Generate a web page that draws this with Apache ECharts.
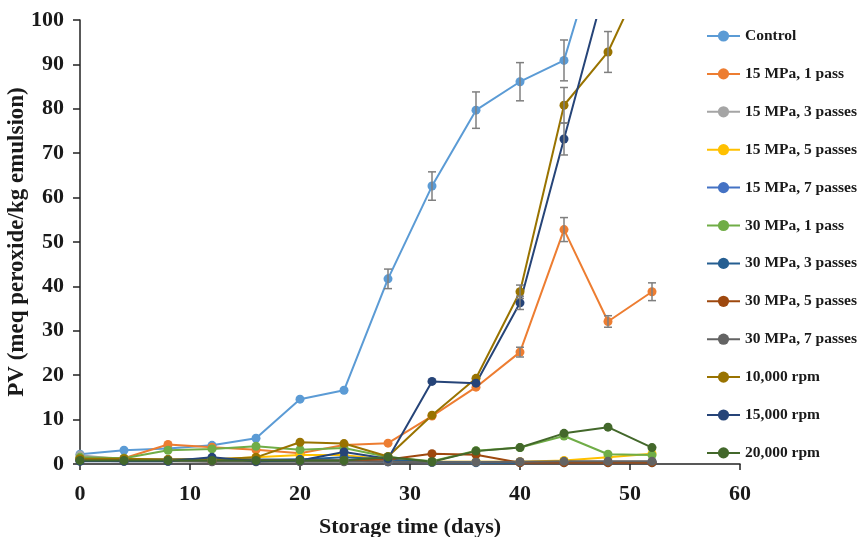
<!DOCTYPE html>
<html>
<head>
<meta charset="utf-8">
<script src="https://cdn.jsdelivr.net/npm/echarts@6/dist/echarts.min.js"></script>
<style>html,body{margin:0;padding:0;background:#fff}#c{width:864px;height:537px}</style>
</head>
<body>
<div id="c"></div>
<script>
var days = [0, 4, 8, 12, 16, 20, 24, 28, 32, 36, 40, 44, 48, 52];
var xTicks = [0, 10, 20, 30, 40, 50, 60];
var yTicks = [0, 10, 20, 30, 40, 50, 60, 70, 80, 90, 100];

var seriesNames = ['Control', '15 MPa, 1 pass', '15 MPa, 3 passes', '15 MPa, 5 passes', '15 MPa, 7 passes',
  '30 MPa, 1 pass', '30 MPa, 3 passes', '30 MPa, 5 passes', '30 MPa, 7 passes',
  '10,000 rpm', '15,000 rpm', '20,000 rpm'];
var seriesColors = ['#5B9BD5', '#ED7D31', '#A5A5A5', '#FFC000', '#4472C4', '#70AD47',
  '#255E91', '#9E480E', '#636363', '#997300', '#264478', '#43682B'];

var control      = [2.2, 3.1, 3.5, 4.2, 5.8, 14.6, 16.6, 41.7, 62.6, 79.7, 86.1, 90.9, 124, null];
var mpa15p1      = [1.5, 1.3, 4.4, 3.8, 3.2, 2.4, 4.3, 4.7, 10.8, 17.3, 25.2, 52.8, 32.1, 38.8];
var mpa15p3      = [2.0, 1.0, 0.8, 0.8, 0.8, 0.8, 0.8, 0.5, 0.5, 0.5, 0.5, 0.5, 0.5, 0.5];
var mpa15p5      = [1.2, 1.0, 1.0, 1.0, 1.5, 2.0, 2.0, 1.0, 0.5, 0.5, 0.5, 0.8, 1.5, 2.3];
var mpa15p7      = [1.0, 0.8, 0.8, 0.8, 0.8, 1.0, 0.8, 0.5, 0.4, 0.4, 0.4, 0.4, 0.4, 0.4];
var mpa30p1      = [1.5, 1.3, 3.1, 3.4, 4.0, 3.2, 3.6, 1.6, 0.6, 3.0, 3.7, 6.3, 2.2, 2.0];
var mpa30p3      = [1.0, 1.0, 1.0, 1.2, 1.0, 1.0, 1.5, 1.0, 0.4, 0.3, 0.3, 0.3, 0.3, 0.3];
var mpa30p5      = [1.0, 0.8, 0.8, 0.6, 0.8, 0.8, 0.8, 1.0, 2.3, 2.1, 0.3, 0.3, 0.3, 0.3];
var mpa30p7      = [0.8, 0.6, 0.6, 0.5, 0.5, 0.5, 0.5, 0.5, 0.4, 0.4, 0.5, 0.6, 0.6, 0.6];
var rpm10000     = [1.2, 1.2, 1.0, 1.0, 1.5, 4.9, 4.6, 1.7, 11.0, 19.3, 38.8, 80.8, 92.8, 114];
var rpm15000     = [0.6, 0.6, 0.6, 1.5, 0.6, 0.8, 2.7, 1.2, 18.6, 18.2, 36.3, 73.2, 110, null];
var rpm20000     = [0.8, 0.8, 0.8, 0.8, 0.8, 0.8, 0.8, 1.6, 0.5, 2.9, 3.7, 6.9, 8.3, 3.7];

// error bar half-widths (0 = none drawn)
var controlErr   = [0, 0, 0, 0, 0, 0, 0, 2.2, 3.2, 4.1, 4.3, 4.6, 0, 0];
var mpa15p1Err   = [0, 0, 0, 0, 0, 0, 0, 0, 0, 0, 1.1, 2.7, 1.3, 2.0];
var rpm10000Err  = [0, 0, 0, 0, 0, 0, 0, 0, 0, 0, 1.5, 4.0, 4.6, 0];
var rpm15000Err  = [0, 0, 0, 0, 0, 0, 0, 0, 0, 0, 1.5, 3.6, 0, 0];

var allValues = [control, mpa15p1, mpa15p3, mpa15p5, mpa15p7, mpa30p1, mpa30p3, mpa30p5, mpa30p7, rpm10000, rpm15000, rpm20000];
var errSets = [[control, controlErr], [mpa15p1, mpa15p1Err], [rpm10000, rpm10000Err], [rpm15000, rpm15000Err]];

var FONT = '"Liberation Serif", "DejaVu Serif", serif';

var series = [];
allValues.forEach(function (vals, i) {
  var data = [];
  days.forEach(function (d, k) { if (vals[k] != null) data.push([d, vals[k]]); });
  series.push({
    name: seriesNames[i], type: 'line', data: data,
    symbol: 'circle', symbolSize: 9, clip: true,
    lineStyle: { width: 2, color: seriesColors[i] },
    itemStyle: { color: seriesColors[i] },
    emphasis: { disabled: true }, z: 2
  });
});

var errData = [];
errSets.forEach(function (pair) {
  days.forEach(function (d, k) {
    var v = pair[0][k], e = pair[1][k];
    if (v != null && e > 0) errData.push([d, v - e, v + e]);
  });
});
series.push({
  type: 'custom', name: 'err', z: 3, silent: true,
  data: errData,
  renderItem: function (params, api) {
    var x = api.value(0);
    var lo = api.coord([x, api.value(1)]);
    var hi = api.coord([x, api.value(2)]);
    var w = 4;
    var st = { stroke: '#7f7f7f', lineWidth: 1.5 };
    return {
      type: 'group', children: [
        { type: 'line', shape: { x1: lo[0], y1: lo[1], x2: hi[0], y2: hi[1] }, style: st },
        { type: 'line', shape: { x1: lo[0] - w, y1: lo[1], x2: lo[0] + w, y2: lo[1] }, style: st },
        { type: 'line', shape: { x1: hi[0] - w, y1: hi[1], x2: hi[0] + w, y2: hi[1] }, style: st }
      ]
    };
  }
});

var chart = echarts.init(document.getElementById('c'));
chart.setOption({
  animation: false,
  backgroundColor: '#fff',
  grid: { left: 80, right: 124, top: 20, bottom: 73, containLabel: false, outerBoundsMode: 'none' },
  legend: {
    data: seriesNames, orient: 'vertical', left: 701, top: 23,
    itemWidth: 33, itemHeight: 14, itemGap: 21.9,
    textStyle: { fontFamily: FONT, fontWeight: 'bold', fontSize: 15.5, lineHeight: 14, color: '#1a1a1a' }
  },
  xAxis: {
    type: 'value', min: xTicks[0], max: xTicks[xTicks.length - 1], interval: xTicks[1] - xTicks[0],
    name: 'Storage time (days)', nameLocation: 'middle', nameGap: 52, nameMoveOverlap: false,
    nameTextStyle: { fontFamily: FONT, fontWeight: 'bold', fontSize: 22, color: '#1a1a1a' },
    axisLine: { lineStyle: { color: '#222', width: 1.5 } },
    axisTick: { show: true, inside: false, length: 6, lineStyle: { color: '#222', width: 1.5 } },
    axisLabel: { fontFamily: FONT, fontWeight: 'bold', fontSize: 22, color: '#1a1a1a', margin: 19 },
    splitLine: { show: false }
  },
  yAxis: {
    type: 'value', min: yTicks[0], max: yTicks[yTicks.length - 1], interval: yTicks[1] - yTicks[0],
    name: 'PV (meq peroxide/kg emulsion)', nameLocation: 'middle', nameGap: 51, nameRotate: 90, nameMoveOverlap: false,
    nameTextStyle: { fontFamily: FONT, fontWeight: 'bold', fontSize: 23, color: '#1a1a1a' },
    axisLine: { show: true, lineStyle: { color: '#222', width: 1.5 } },
    axisTick: { show: true, inside: false, length: 7, lineStyle: { color: '#222', width: 1.5 } },
    axisLabel: { fontFamily: FONT, fontWeight: 'bold', fontSize: 22, color: '#1a1a1a', margin: 16 },
    splitLine: { show: false }
  },
  series: series
});
</script>
</body>
</html>
